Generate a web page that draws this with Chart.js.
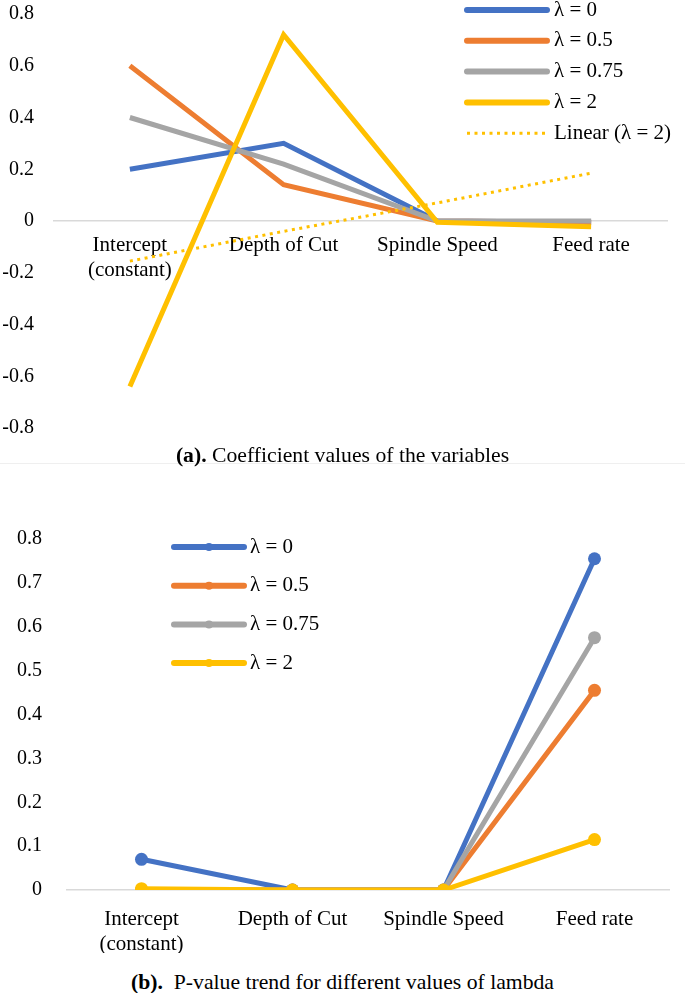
<!DOCTYPE html>
<html>
<head>
<meta charset="utf-8">
<script src="https://cdn.jsdelivr.net/npm/chart.js@4/dist/chart.umd.min.js"></script>
<style>
  html, body { margin: 0; padding: 0; background: #fff; }
  #page { position: relative; width: 685px; height: 993px; font-family: 'Liberation Serif', 'Times New Roman', serif; color: #000; }
  canvas { position: absolute; left: 0; }
  #chartA { top: 0; }
  #chartB { top: 495px; }
  .caption { position: absolute; left: 0; width: 685px; text-align: center; font-size: 21.7px; line-height: 24px; }
  #capA { top: 443px; }
  #capB { top: 970px; }
  #rule { position: absolute; left: 0; top: 463px; width: 685px; height: 1px; background: #efefef; }
</style>
</head>
<body>
<div id="page">
  <canvas id="chartA" width="685" height="445"></canvas>
  <div id="rule"></div>
  <div class="caption" id="capA"><b>(a).</b> Coefficient values of the variables</div>
  <canvas id="chartB" width="685" height="462"></canvas>
  <div class="caption" id="capB"><b>(b).</b>&nbsp; P-value trend for different values of lambda</div>
</div>
<script>
(function () {
    'use strict';

    /* ── Data ───────────────────────────────────────────────────── */
    var categories  = [['Intercept', '(constant)'], 'Depth of Cut', 'Spindle Speed', 'Feed rate'];
    var seriesNames = ['λ = 0', 'λ = 0.5', 'λ = 0.75', 'λ = 2'];
    var trendName   = 'Linear (λ = 2)';

    // (a) coefficient values
    var coefLambda0   = [0.20, 0.30, 0, -0.005];
    var coefLambda05  = [0.60, 0.14, 0, -0.005];
    var coefLambda075 = [0.40, 0.22, 0, 0];
    var coefLambda2   = [-0.64, 0.72, -0.005, -0.022];
    var coefTrend     = [-0.155, -0.04, 0.07, 0.185];
    var coefTicks     = [-0.8, -0.6, -0.4, -0.2, 0, 0.2, 0.4, 0.6, 0.8];

    // (b) p-values
    var pLambda0   = [0.07, 0, 0, 0.755];
    var pLambda05  = [0, 0, 0, 0.455];
    var pLambda075 = [0, 0, 0, 0.575];
    var pLambda2   = [0.003, 0, 0, 0.115];
    var pTicks     = [0, 0.1, 0.2, 0.3, 0.4, 0.5, 0.6, 0.7, 0.8];

    var colors = ['#4472C4', '#ED7D31', '#A5A5A5', '#FFC000'];
    var serif  = "'Liberation Serif', 'Times New Roman', serif";

    Chart.defaults.font.family = serif;
    Chart.defaults.font.size   = 20;
    Chart.defaults.color       = '#000';

    /* ── Legend drawn inside the plot ───────────────────────────── */
    var insideLegend = {
        id: 'insideLegend',
        afterDraw: function (chart, args, opts) {
            var ctx = chart.ctx;
            ctx.save();
            ctx.font = '21px ' + serif;
            ctx.textBaseline = 'middle';
            chart.data.datasets.forEach(function (ds, i) {
                var y = opts.y + i * opts.rowGap;
                ctx.strokeStyle = ds.borderColor;
                ctx.lineWidth   = ds.borderDash ? 3 : 6;
                ctx.setLineDash(ds.borderDash || []);
                ctx.lineCap = ds.borderDash ? 'butt' : 'round';
                ctx.beginPath();
                ctx.moveTo(opts.x, y);
                ctx.lineTo(opts.x + opts.lineLength, y);
                ctx.stroke();
                if (opts.marker) {
                    ctx.fillStyle = ds.borderColor;
                    ctx.beginPath();
                    ctx.arc(opts.x + opts.lineLength / 2, y, 4, 0, Math.PI * 2);
                    ctx.fill();
                }
                ctx.fillStyle = '#000';
                ctx.fillText(ds.label, opts.x + opts.lineLength + opts.textGap, y);
            });
            ctx.restore();
        }
    };

    function zeroGrid(ctx) {
        return ctx.tick && ctx.tick.value === 0 ? '#d9d9d9' : 'rgba(0,0,0,0)';
    }

    // keep the tick padding from pushing the plot area in
    function fixYAxis(width) {
        return function (s) {
            s.width = width;
            s.paddingTop = 0;
            s.paddingBottom = 0;
        };
    }

    function series(label, data, color, order, extra) {
        var ds = {
            label: label,
            data: data,
            borderColor: color,
            backgroundColor: color,
            borderWidth: 5,
            tension: 0,
            pointRadius: 0,
            order: order,
        };
        return Object.assign(ds, extra || {});
    }

    function withDots(color) {
        return { pointRadius: 6.5, pointBorderWidth: 0, pointBackgroundColor: color };
    }

    /* ── (a) Coefficient chart ──────────────────────────────────── */
    new Chart(document.getElementById('chartA'), {
        type: 'line',
        data: {
            labels: categories,
            datasets: [
                series(seriesNames[0], coefLambda0,   colors[0], 4),
                series(seriesNames[1], coefLambda05,  colors[1], 3),
                series(seriesNames[2], coefLambda075, colors[2], 2),
                series(seriesNames[3], coefLambda2,   colors[3], 1),
                series(trendName, coefTrend, colors[3], 0, { borderWidth: 3, borderDash: [3, 4.5] }),
            ],
        },
        plugins: [insideLegend],
        options: {
            responsive: false,
            devicePixelRatio: 1,
            animation: false,
            events: [],
            layout: { padding: { left: 2, right: 17, top: 14, bottom: 17 } },
            plugins: {
                legend: { display: false },
                tooltip: { enabled: false },
                insideLegend: { x: 467, y: 10, rowGap: 30.8, lineLength: 80, textGap: 7 },
            },
            scales: {
                x: {
                    type: 'category',
                    offset: true,
                    position: { y: 0 },
                    grid: { display: false, drawTicks: false },
                    border: { display: false },
                    ticks: { padding: 12, maxRotation: 0, autoSkip: false, font: { size: 21 } },
                    afterFit: function (s) { s.height = 0; },
                },
                y: {
                    min: -0.8,
                    max: 0.8,
                    afterBuildTicks: function (s) {
                        s.ticks = coefTicks.map(function (v) { return { value: v }; });
                    },
                    afterFit: fixYAxis(51),
                    grid: { drawTicks: false, color: zeroGrid, lineWidth: 1.5 },
                    border: { display: false },
                    ticks: { padding: 19 },
                },
            },
        },
    });

    /* ── (b) P-value chart ──────────────────────────────────────── */
    new Chart(document.getElementById('chartB'), {
        type: 'line',
        data: {
            labels: categories,
            datasets: [
                series(seriesNames[0], pLambda0,   colors[0], 4, withDots(colors[0])),
                series(seriesNames[1], pLambda05,  colors[1], 3, withDots(colors[1])),
                series(seriesNames[2], pLambda075, colors[2], 2, withDots(colors[2])),
                series(seriesNames[3], pLambda2,   colors[3], 1, withDots(colors[3])),
            ],
        },
        plugins: [insideLegend],
        options: {
            responsive: false,
            devicePixelRatio: 1,
            animation: false,
            events: [],
            layout: { padding: { left: 17, right: 15, top: 44, bottom: 4 } },
            plugins: {
                legend: { display: false },
                tooltip: { enabled: false },
                insideLegend: { x: 174, y: 52, rowGap: 38.7, lineLength: 70, textGap: 6, marker: true },
            },
            scales: {
                x: {
                    type: 'category',
                    offset: true,
                    grid: { display: false, drawTicks: false },
                    border: { display: false },
                    ticks: { padding: 17, maxRotation: 0, autoSkip: false, font: { size: 21 } },
                    afterFit: function (s) { s.height = 63; },
                },
                y: {
                    min: 0,
                    max: 0.8,
                    afterBuildTicks: function (s) {
                        s.ticks = pTicks.map(function (v) { return { value: v }; });
                    },
                    afterFit: fixYAxis(49),
                    grid: { drawTicks: false, color: zeroGrid, lineWidth: 1.5 },
                    border: { display: false },
                    ticks: { padding: 24 },
                },
            },
        },
    });
}());
</script>
</body>
</html>
